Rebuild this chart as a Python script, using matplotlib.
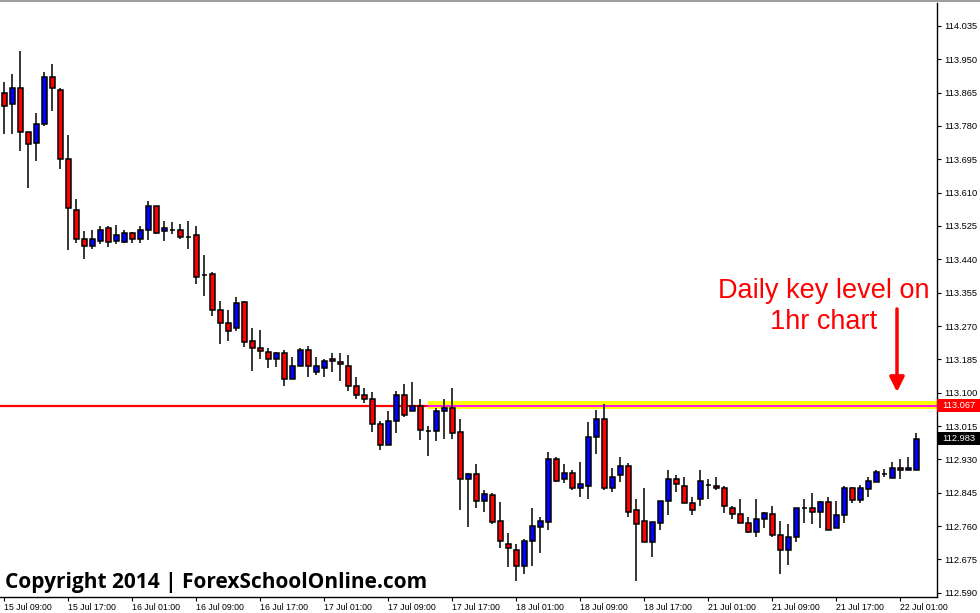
import numpy as np
import matplotlib
matplotlib.use('Agg')
import matplotlib.pyplot as plt
from matplotlib.patches import Rectangle
from matplotlib.transforms import blended_transform_factory

plt.rcParams['font.family'] = ['Liberation Sans', 'DejaVu Sans']

# hourly candles, 15 Jul 09:00 -> 22 Jul 03:00
opens = [113.863, 113.835, 113.876, 113.764, 113.736, 113.784, 113.904, 113.873, 113.697, 113.565,
         113.491, 113.475, 113.488, 113.521, 113.488, 113.485, 113.506, 113.491, 113.516, 113.577,
         113.511, 113.515, 113.514, 113.497, 113.501, 113.400, 113.402, 113.312, 113.277, 113.264,
         113.330, 113.233, 113.213, 113.203, 113.187, 113.200, 113.134, 113.169, 113.210, 113.152,
         113.162, 113.185, 113.177, 113.167, 113.118, 113.093, 113.085, 113.019, 112.966, 113.029,
         113.093, 113.052, 113.065, 113.002, 113.001, 113.052, 113.060, 112.999, 112.881, 112.892,
         112.823, 112.838, 112.774, 112.713, 112.698, 112.657, 112.721, 112.757, 112.769, 112.930,
         112.881, 112.894, 112.856, 112.861, 112.986, 113.032, 112.856, 112.889, 112.912, 112.800,
         112.772, 112.718, 112.767, 112.825, 112.879, 112.861, 112.818, 112.830, 112.864, 112.861,
         112.858, 112.807, 112.790, 112.767, 112.746, 112.777, 112.790, 112.736, 112.700, 112.731,
         112.805, 112.805, 112.795, 112.820, 112.754, 112.787, 112.856, 112.826, 112.854, 112.871,
         112.893, 112.883, 112.907, 112.902, 112.904]
highs = [113.893, 113.912, 113.971, 113.764, 113.813, 113.917, 113.938, 113.878, 113.756, 113.595,
         113.511, 113.514, 113.524, 113.524, 113.527, 113.516, 113.509, 113.524, 113.590, 113.577,
         113.537, 113.534, 113.529, 113.537, 113.524, 113.450, 113.407, 113.335, 113.312, 113.345,
         113.333, 113.264, 113.261, 113.213, 113.203, 113.210, 113.190, 113.215, 113.218, 113.192,
         113.185, 113.200, 113.200, 113.195, 113.141, 113.113, 113.101, 113.027, 113.052, 113.103,
         113.122, 113.126, 113.085, 113.016, 113.060, 113.083, 113.111, 113.032, 112.894, 112.917,
         112.853, 112.843, 112.820, 112.741, 112.713, 112.728, 112.805, 112.782, 112.948, 112.935,
         112.917, 112.902, 112.922, 113.024, 113.057, 113.070, 112.909, 112.935, 112.920, 112.828,
         112.856, 112.769, 112.825, 112.904, 112.889, 112.884, 112.833, 112.902, 112.879, 112.884,
         112.861, 112.810, 112.828, 112.782, 112.828, 112.797, 112.810, 112.774, 112.764, 112.807,
         112.830, 112.843, 112.825, 112.833, 112.825, 112.863, 112.859, 112.864, 112.886, 112.904,
         112.906, 112.923, 112.932, 112.935, 112.996]
lows = [113.760, 113.760, 113.717, 113.622, 113.691, 113.780, 113.819, 113.671, 113.463, 113.482,
        113.441, 113.467, 113.478, 113.472, 113.478, 113.481, 113.482, 113.482, 113.490, 113.504,
        113.487, 113.505, 113.491, 113.467, 113.378, 113.347, 113.296, 113.225, 113.232, 113.256,
        113.217, 113.154, 113.186, 113.162, 113.166, 113.118, 113.134, 113.169, 113.141, 113.144,
        113.140, 113.152, 113.131, 113.103, 113.083, 113.073, 113.000, 112.953, 112.966, 112.998,
        113.037, 113.052, 112.980, 112.939, 112.977, 112.982, 112.982, 112.800, 112.758, 112.806,
        112.797, 112.764, 112.705, 112.656, 112.621, 112.637, 112.657, 112.690, 112.749, 112.871,
        112.869, 112.851, 112.833, 112.830, 112.943, 112.853, 112.848, 112.871, 112.782, 112.620,
        112.718, 112.682, 112.751, 112.787, 112.848, 112.818, 112.787, 112.810, 112.830, 112.851,
        112.792, 112.777, 112.767, 112.741, 112.731, 112.754, 112.731, 112.637, 112.660, 112.718,
        112.767, 112.764, 112.756, 112.751, 112.754, 112.767, 112.818, 112.818, 112.833, 112.871,
        112.885, 112.883, 112.881, 112.902, 112.902]
closes = [113.832, 113.876, 113.764, 113.733, 113.784, 113.904, 113.876, 113.697, 113.570, 113.491,
          113.475, 113.491, 113.516, 113.483, 113.501, 113.506, 113.491, 113.516, 113.575, 113.506,
          113.519, 113.515, 113.496, 113.497, 113.396, 113.400, 113.312, 113.277, 113.256, 113.328,
          113.230, 113.213, 113.205, 113.186, 113.200, 113.134, 113.167, 113.210, 113.167, 113.167,
          113.182, 113.180, 113.172, 113.118, 113.093, 113.083, 113.019, 112.966, 113.029, 113.093,
          113.042, 113.065, 113.004, 113.002, 113.052, 113.062, 112.996, 112.881, 112.892, 112.823,
          112.841, 112.769, 112.723, 112.703, 112.657, 112.723, 112.759, 112.772, 112.930, 112.876,
          112.894, 112.856, 112.866, 112.986, 113.032, 112.856, 112.886, 112.912, 112.797, 112.764,
          112.718, 112.769, 112.825, 112.879, 112.866, 112.818, 112.800, 112.874, 112.864, 112.856,
          112.810, 112.790, 112.767, 112.746, 112.777, 112.792, 112.736, 112.700, 112.731, 112.805,
          112.805, 112.795, 112.820, 112.751, 112.787, 112.856, 112.826, 112.858, 112.875, 112.897,
          112.893, 112.907, 112.902, 112.907, 112.983]

time_labels = ['15 Jul 09:00', '15 Jul 17:00', '16 Jul 01:00', '16 Jul 09:00', '16 Jul 17:00',
               '17 Jul 01:00', '17 Jul 09:00', '17 Jul 17:00', '18 Jul 01:00', '18 Jul 09:00',
               '18 Jul 17:00', '21 Jul 01:00', '21 Jul 09:00', '21 Jul 17:00', '22 Jul 01:00']
price_ticks = [114.035, 113.950, 113.865, 113.780, 113.695, 113.610, 113.525, 113.440, 113.355,
               113.270, 113.185, 113.100, 113.015, 112.930, 112.845, 112.760, 112.675, 112.590]

key_level = 113.067
zone_low, zone_high = 113.059, 113.078
last_price = closes[-1]

opens = np.array(opens)
highs = np.array(highs)
lows = np.array(lows)
closes = np.array(closes)
x = np.arange(len(opens))

fig = plt.figure(figsize=(9.8, 6.13), dpi=100)
ax = fig.add_axes([0, 16/613, 937/980, 1 - 19/613])

ax.set_xlim(-0.5375, 116.59)
ax.set_ylim(112.579, 114.0936)

# key level line + yellow zone
ax.axhline(key_level, color='#FF0000', lw=1.6, zorder=1)
ax.axhspan(zone_low, zone_high, xmin=428/937, xmax=1, color='#FFFF00', lw=0, zorder=2)
ax.axhline(key_level, xmin=428/937, xmax=1, color='#FF00FF', lw=1.3, zorder=3)

# candles
body_colors = []
for o, c in zip(opens, closes):
    if c > o:
        body_colors.append('#0000FF')
    elif c < o:
        body_colors.append('#FF0000')
    else:
        body_colors.append('black')

ax.vlines(x, lows, highs, color='black', lw=1.1, zorder=4)
ax.bar(x, np.abs(closes - opens), bottom=np.minimum(opens, closes), width=0.6,
       color=body_colors, edgecolor='black', linewidth=1.1, zorder=5)

# axes look (MT4 style)
for s in ['left', 'top']:
    ax.spines[s].set_visible(False)
ax.spines['right'].set_linewidth(1)
ax.spines['bottom'].set_linewidth(1)

ax.yaxis.tick_right()
ax.set_yticks(price_ticks)
ax.set_yticklabels(['%.3f' % p for p in price_ticks])
ax.tick_params(axis='y', direction='out', length=3, width=0.8, pad=2, labelsize=6.7)

ax.set_xticks(x[::8][:len(time_labels)])
ax.set_xticklabels(time_labels)
ax.tick_params(axis='x', direction='out', length=3, width=0.8, pad=1.5, labelsize=6.3)
for lab in ax.get_xticklabels():
    lab.set_horizontalalignment('left')

# price boxes on the right scale
trans = blended_transform_factory(ax.transAxes, ax.transData)
box_h = 13/392.2
for price, col in [(key_level, '#FF0000'), (last_price, 'black')]:
    ax.add_patch(Rectangle((1.0, price - box_h/2), 43/937, box_h, transform=trans,
                           facecolor=col, edgecolor='none', clip_on=False, zorder=6))
    ax.text(1.0055, price, '%.3f' % price, transform=trans, color='white',
            fontsize=6.7, va='center', ha='left', zorder=7)

# top border
fig.add_artist(plt.Line2D([0, 1], [1 - 0.5/613, 1 - 0.5/613], color='#A0A0A0', lw=1.5))

# annotation
ax.text(824/937, 1 - 295/594, 'Daily key level on', transform=ax.transAxes, color='#FF0000',
        fontsize=19.5, ha='center', va='baseline')
ax.text(824/937, 1 - 326/594, '1hr chart', transform=ax.transAxes, color='#FF0000',
        fontsize=19.5, ha='center', va='baseline')
ax.annotate('', xy=(897, 613 - 392), xytext=(897, 613 - 309), xycoords='figure pixels',
            textcoords='figure pixels',
            arrowprops=dict(arrowstyle='-|>', color='#FF0000', lw=2.5, mutation_scale=22,
                            shrinkA=0, shrinkB=0))

fig.text(5/980, (613 - 588)/613, 'Copyright 2014 | ForexSchoolOnline.com',
         fontsize=15, fontweight='bold', family='Open Sans', va='baseline', ha='left')

plt.savefig('out.png', dpi=100)
